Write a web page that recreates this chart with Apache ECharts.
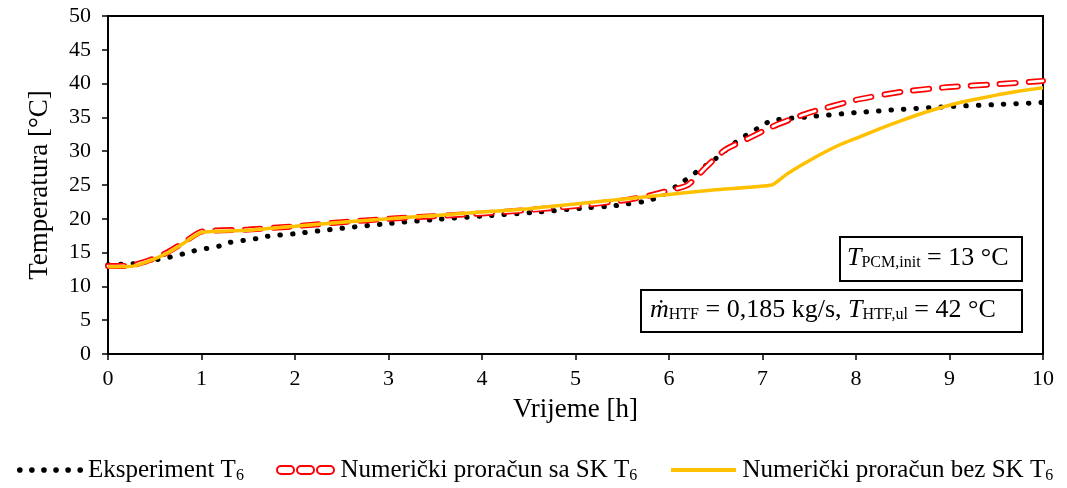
<!DOCTYPE html>
<html>
<head>
<meta charset="utf-8">
<script src="https://cdn.jsdelivr.net/npm/echarts@6/dist/echarts.min.js"></script>
<style>
html,body{margin:0;padding:0;background:#fff;}
#chart{width:1067px;height:488px;}
</style>
</head>
<body>
<div id="chart"></div>
<script>
// ---- data ----
var expHours = [0, 0.15, 0.3, 0.5, 0.65, 0.8, 0.9, 1.05, 1.2, 1.3, 1.45, 1.6, 1.7, 2.0, 2.25, 2.5, 3.0, 3.5, 4.0, 4.6, 5.1, 5.4, 5.5, 5.75, 5.9, 6.1, 6.3, 6.5, 6.7, 6.95, 7.1, 7.5, 8.0, 8.5, 9.0, 9.5, 10];
var expTemp  = [13.2, 13.3, 13.4, 13.9, 14.3, 14.8, 15.2, 15.6, 16.0, 16.5, 16.8, 17.1, 17.4, 17.8, 18.2, 18.6, 19.3, 19.9, 20.4, 21.0, 21.6, 21.9, 22.1, 22.6, 23.3, 25.0, 27.0, 28.9, 31.2, 33.4, 34.5, 35.1, 35.7, 36.2, 36.6, 36.9, 37.2];

var skHours = [0, 0.25, 0.45, 0.63, 0.81, 1.0, 1.5, 2.0, 2.5, 3.0, 3.5, 4.0, 4.5, 5.0, 5.5, 5.75, 5.95, 6.2, 6.4, 6.6, 6.85, 7.1, 7.3, 7.5, 8.0, 8.5, 9.0, 9.5, 10];
var skTemp  = [13.0, 13.1, 13.9, 15.0, 16.5, 18.1, 18.4, 18.9, 19.5, 20.0, 20.4, 20.8, 21.3, 21.9, 22.7, 23.3, 24.0, 25.0, 27.7, 30.2, 31.9, 33.6, 34.7, 35.7, 37.6, 38.8, 39.5, 39.9, 40.4];

var bezHours = [0, 0.27, 0.45, 0.63, 0.81, 1.0, 1.5, 2.0, 2.5, 3.0, 3.5, 4.0, 4.5, 5.0, 5.5, 6.0, 6.5, 7.1, 7.25, 7.4, 7.55, 7.7, 7.85, 8.0, 8.25, 8.5, 8.75, 9.0, 9.25, 9.5, 9.75, 10];
var bezTemp  = [12.9, 13.0, 13.8, 14.9, 16.4, 18.0, 18.3, 18.9, 19.5, 20.0, 20.5, 21.0, 21.5, 22.2, 22.9, 23.6, 24.3, 25.0, 26.5, 27.8, 29.0, 30.1, 31.1, 31.9, 33.3, 34.6, 35.8, 36.8, 37.6, 38.3, 38.9, 39.4];

var seriesNames = ['Eksperiment T{s|6}', 'Numerički proračun sa SK T{s|6}', 'Numerički proračun bez SK T{s|6}'];
var xTitle = 'Vrijeme [h]';
var yTitle = 'Temperatura [°C]';
var box1Text = '{i|T}{s|PCM,init}{n| = 13 °C}';
var box2Text = '{i|ṁ}{s|HTF}{n| = 0,185 kg/s, }{i|T}{s|HTF,ul}{n| = 42 °C}';

function pairs(h, t) { return h.map(function (v, i) { return [v, t[i]]; }); }

var FONT = 'Liberation Serif';
var chart = echarts.init(document.getElementById('chart'), null, {renderer: 'canvas'});

function circ(cx, cy, r) {
  return 'M' + (cx - r) + ',' + cy + ' A' + r + ',' + r + ' 0 1 0 ' + (cx + r) + ',' + cy + ' A' + r + ',' + r + ' 0 1 0 ' + (cx - r) + ',' + cy + ' Z ';
}
var dotsPath = 'path://';
for (var k = 0; k < 6; k++) dotsPath += circ(3 + k * 12, 3, 2.8);
function capsule(x, w, h) {
  var r = h / 2;
  return 'M' + (x + r) + ',0 L' + (x + w - r) + ',0 A' + r + ',' + r + ' 0 0 1 ' + (x + w - r) + ',' + h + ' L' + (x + r) + ',' + h + ' A' + r + ',' + r + ' 0 0 1 ' + (x + r) + ',0 Z ';
}
var dashPath = 'path://' + capsule(0, 17, 8) + capsule(20, 17, 8) + capsule(40, 17, 8);

var richText = {
  s: {fontFamily: FONT, fontSize: 16, color: '#000', verticalAlign: 'bottom', lineHeight: 17}
};
var legendText = {fontFamily: FONT, fontSize: 25, color: '#000', lineHeight: 28, verticalAlign: 'bottom', rich: richText};

var boxRich = {
  n: {fontFamily: FONT, fontSize: 26, color: '#000', lineHeight: 30, verticalAlign: 'bottom'},
  i: {fontFamily: FONT, fontSize: 26, fontStyle: 'italic', color: '#000', lineHeight: 30, verticalAlign: 'bottom'},
  s: {fontFamily: FONT, fontSize: 16, color: '#000', lineHeight: 16, verticalAlign: 'bottom'}
};

var option = {
  animation: false,
  backgroundColor: '#fff',
  grid: {left: 108, right: 24, top: 16, bottom: 134, show: true, borderColor: '#000', borderWidth: 2, backgroundColor: 'transparent'},
  xAxis: {
    type: 'value', min: 0, max: 10, interval: 1,
    name: xTitle, nameLocation: 'middle', nameGap: 42,
    nameTextStyle: {fontFamily: FONT, fontSize: 27, color: '#000'},
    axisLine: {show: true, lineStyle: {color: '#000', width: 2}},
    axisTick: {show: true, inside: false, length: 6, lineStyle: {color: '#000', width: 1.5}},
    axisLabel: {fontFamily: FONT, fontSize: 22, color: '#000', margin: 14},
    splitLine: {show: false}
  },
  yAxis: {
    type: 'value', min: 0, max: 50, interval: 5,
    name: yTitle, nameLocation: 'middle', nameGap: 55, nameRotate: 90,
    nameTextStyle: {fontFamily: FONT, fontSize: 27, color: '#000'},
    axisLine: {show: true, lineStyle: {color: '#000', width: 2}},
    axisTick: {show: true, inside: false, length: 6, lineStyle: {color: '#000', width: 1.5}},
    axisLabel: {fontFamily: FONT, fontSize: 22, color: '#000', margin: 17},
    splitLine: {show: false}
  },
  legend: [
    {data: [{name: seriesNames[0], icon: dotsPath, itemStyle: {color: '#000', borderWidth: 0}}],
     left: 12, top: 451, itemWidth: 66, itemHeight: 6, itemGap: 0, textStyle: legendText, selectedMode: false},
    {data: [{name: seriesNames[1], icon: dashPath, itemStyle: {color: '#fff', borderColor: '#ff0000', borderWidth: 2}}],
     left: 271, top: 451, itemWidth: 60, itemHeight: 8, itemGap: 0, textStyle: legendText, selectedMode: false},
    {data: [{name: seriesNames[2], icon: 'path://M0,0 L65,0 L65,4 L0,4 Z', itemStyle: {color: '#FFC000', borderWidth: 0}}],
     left: 666, top: 451, itemWidth: 68, itemHeight: 4, itemGap: 0, textStyle: legendText, selectedMode: false}
  ],
  series: [
    {
      name: seriesNames[0], type: 'line', data: pairs(expHours, expTemp),
      symbol: 'none', smooth: 0.3, z: 2,
      lineStyle: {color: '#000', width: 5, type: [0.5, 12], cap: 'round'},
      itemStyle: {color: '#000'}
    },
    {
      name: seriesNames[1], type: 'line', data: pairs(skHours, skTemp),
      symbol: 'none', smooth: 0.2, z: 3,
      lineStyle: {color: '#ff0000', width: 6, type: [16, 13], cap: 'round'},
      itemStyle: {color: '#ff0000'}
    },
    {
      name: 'skInner', type: 'line', data: pairs(skHours, skTemp),
      symbol: 'none', smooth: 0.2, z: 4, silent: true,
      lineStyle: {color: '#ffffff', width: 2.6, type: [16, 13], cap: 'round'},
      itemStyle: {color: '#ffffff'}
    },
    {
      name: seriesNames[2], type: 'line', data: pairs(bezHours, bezTemp),
      symbol: 'none', smooth: 0.15, z: 5,
      lineStyle: {color: '#FFC000', width: 3.5},
      itemStyle: {color: '#FFC000'}
    }
  ],
  graphic: [
    {type: 'rect', left: 839, top: 236, z: 100, shape: {width: 182, height: 44}, style: {fill: '#fff', stroke: '#000', lineWidth: 2}},
    {type: 'text', z: 101, left: 847, top: 245, style: {text: box1Text, rich: boxRich}},
    {type: 'rect', left: 640, top: 289, z: 100, shape: {width: 381, height: 42}, style: {fill: '#fff', stroke: '#000', lineWidth: 2}},
    {type: 'text', z: 101, left: 650, top: 297, style: {text: box2Text, rich: boxRich}}
  ]
};
chart.setOption(option);
</script>
</body>
</html>
